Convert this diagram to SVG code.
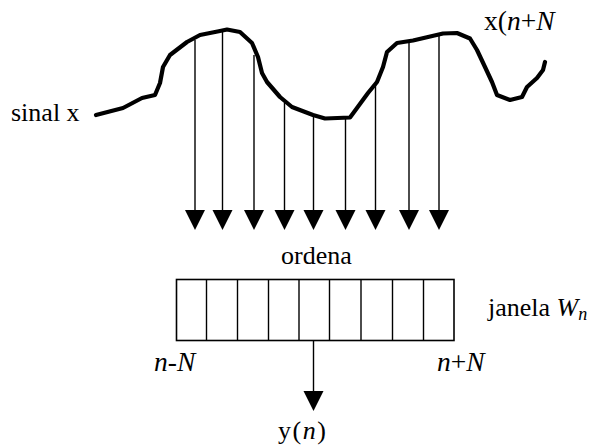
<svg xmlns="http://www.w3.org/2000/svg" width="592" height="446" viewBox="0 0 592 446">
<style>
text{font-family:'Liberation Serif','Times New Roman','DejaVu Serif',serif;font-size:26px;fill:#000}
.it{font-style:italic}
.ex{font-size:27.5px}
.sig{fill:none;stroke:#000;stroke-width:4.2;stroke-linejoin:round;stroke-linecap:round}
.ln{stroke:#000;stroke-width:1.4;fill:none}
.hd{fill:#000}
.box{fill:#fff;stroke:#000;stroke-width:1.6}
</style>
<rect width="592" height="446" fill="#fff"/>
<g id="signal">
<path class="sig" d="M96,115 L123,108 L142,98 L155,95 L160,83 L163,67 L170,55 L187,42 L200,35 L220,31 L227,29.5 L240,32 L252,43 L258,57 L262,73 L267,82 L280,97 L292,107 L313,115 L325,118.5 L350,117.5 L357,108 L368,93 L377,82 L383,67 L387,52 L397,43 L413,40.5 L443,33.5 L457,33 L470,38.5 L477,50 L485,67 L492,82 L497,95 L510,100 L522,97 L527,87 L537,78 L543,70 L545,62"/>
</g>
<g id="connectors">
<line class="ln" x1="195" y1="40" x2="195" y2="212"/>
<line class="ln" x1="222.5" y1="31" x2="222.5" y2="212"/>
<line class="ln" x1="254" y1="55" x2="254" y2="212"/>
<line class="ln" x1="284.5" y1="103" x2="284.5" y2="212"/>
<line class="ln" x1="313.5" y1="116" x2="313.5" y2="212"/>
<line class="ln" x1="345.5" y1="118" x2="345.5" y2="212"/>
<line class="ln" x1="375.5" y1="84" x2="375.5" y2="212"/>
<line class="ln" x1="409" y1="42" x2="409" y2="212"/>
<line class="ln" x1="439" y1="36" x2="439" y2="212"/>
<polygon class="hd" points="185,210 205,210 195,230"/>
<polygon class="hd" points="212.5,210 232.5,210 222.5,230"/>
<polygon class="hd" points="244,210 264,210 254,230"/>
<polygon class="hd" points="274.5,210 294.5,210 284.5,230"/>
<polygon class="hd" points="303.5,210 323.5,210 313.5,230"/>
<polygon class="hd" points="335.5,210 355.5,210 345.5,230"/>
<polygon class="hd" points="365.5,210 385.5,210 375.5,230"/>
<polygon class="hd" points="399,210 419,210 409,230"/>
<polygon class="hd" points="429,210 449,210 439,230"/>
<line class="ln" x1="313.5" y1="340" x2="313.5" y2="393"/>
<polygon class="hd" points="303.5,391 323.5,391 313.5,411"/>
</g>
<g id="window">
<rect class="box" x="176.5" y="279.5" width="277.5" height="61"/>
<line class="ln" x1="206.5" y1="279.5" x2="206.5" y2="340.5"/>
<line class="ln" x1="237.5" y1="279.5" x2="237.5" y2="340.5"/>
<line class="ln" x1="268.5" y1="279.5" x2="268.5" y2="340.5"/>
<line class="ln" x1="299" y1="279.5" x2="299" y2="340.5"/>
<line class="ln" x1="329.5" y1="279.5" x2="329.5" y2="340.5"/>
<line class="ln" x1="361" y1="279.5" x2="361" y2="340.5"/>
<line class="ln" x1="392.5" y1="279.5" x2="392.5" y2="340.5"/>
<line class="ln" x1="423.5" y1="279.5" x2="423.5" y2="340.5"/>
</g>
<g id="labels">
<text x="11" y="121">sinal x</text>
<text x="484" y="30" class="ex">x(<tspan class="it">n</tspan>+<tspan class="it">N</tspan></text>
<text x="281" y="264">ordena</text>
<text x="488" y="316">janela <tspan class="it">W</tspan><tspan class="it" font-size="18" dy="4">n</tspan></text>
<text x="154" y="371" class="it ex">n-N</text>
<text x="437" y="371" class="ex"><tspan class="it">n</tspan>+<tspan class="it">N</tspan></text>
<text x="278" y="439" font-size="26.5" letter-spacing="1.5">y(<tspan class="it">n</tspan>)</text>
</g>
</svg>
